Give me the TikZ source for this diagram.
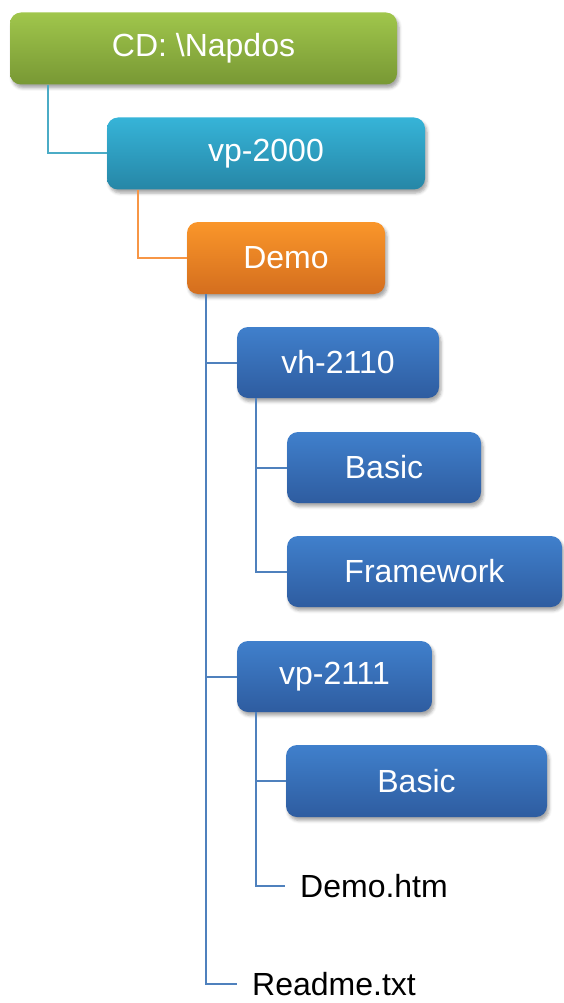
\documentclass[tikz,border=0pt]{standalone}
\usepackage{fontspec}
\setmainfont{Liberation Sans}
\usetikzlibrary{shadows.blur}
\definecolor{greenTop}{RGB}{160,198,76}
\definecolor{greenBot}{RGB}{120,152,52}
\definecolor{aquaTop}{RGB}{54,180,216}
\definecolor{aquaBot}{RGB}{38,134,166}
\definecolor{orangeTop}{RGB}{250,150,42}
\definecolor{orangeBot}{RGB}{212,110,30}
\definecolor{blueTop}{RGB}{64,128,204}
\definecolor{blueBot}{RGB}{46,92,160}
\definecolor{aquaLine}{RGB}{75,172,198}
\definecolor{orangeLine}{RGB}{247,150,70}
\definecolor{blueLine}{RGB}{79,129,189}
\begin{document}
\begin{tikzpicture}[x=1pt,y=-1pt,
  box/.style={rounded corners=11pt, inner sep=0pt, minimum height=72pt,
    text=white, font=\fontsize{32}{38}\selectfont,
    blur shadow={shadow xshift=2pt, shadow yshift=-3.5pt, shadow blur radius=3pt, shadow opacity=35}},
  greenbox/.style={box, top color=greenTop, bottom color=greenBot},
  aquabox/.style={box, top color=aquaTop, bottom color=aquaBot},
  orangebox/.style={box, top color=orangeTop, bottom color=orangeBot},
  bluebox/.style={box, top color=blueTop, bottom color=blueBot},
  leaf/.style={anchor=west, inner xsep=15pt, inner ysep=0pt, text height=23pt, text depth=0pt,
    text=black, font=\fontsize{32}{38}\selectfont},
  conn/.style={line width=2pt},
]
\useasboundingbox (0,0) rectangle (563,1003);

\node[greenbox, minimum width=387pt] (cd) at (203.5,48.5) {CD: \textbackslash Napdos};
\node[aquabox, minimum width=318pt] (vp2000) at (266,153.5) {vp-2000};
\node[orangebox, minimum width=198pt] (demo) at (286,258) {Demo};
\node[bluebox, minimum width=202pt, minimum height=71pt] (vh2110) at (338,362.5) {vh-2110};
\node[bluebox, minimum width=194pt, minimum height=71pt] (basicA) at (384,467.5) {Basic};
\node[bluebox, minimum width=275pt, minimum height=71pt] (frame) at (424.5,571.5) {Framework};
\node[bluebox, minimum width=195pt, minimum height=71pt] (vp2111) at (334.5,676.5) {vp-2111};
\node[bluebox, minimum width=261pt, minimum height=72pt] (basicB) at (416.5,781) {Basic};
\node[leaf] (demohtm) at (285,886) {Demo.htm};
\node[leaf] (readme) at (237,983.5) {Readme.txt};

\draw[conn, aquaLine] ([xshift=38pt]cd.south west) |- (vp2000.west);
\draw[conn, orangeLine] ([xshift=31pt]vp2000.south west) |- (demo.west);
\draw[conn, blueLine] ([xshift=19pt]demo.south west) |- (vh2110.west);
\draw[conn, blueLine] ([xshift=19pt]demo.south west) |- (vp2111.west);
\draw[conn, blueLine] ([xshift=19pt]demo.south west) |- (readme.west);
\draw[conn, blueLine] ([xshift=19pt]vh2110.south west) |- (basicA.west);
\draw[conn, blueLine] ([xshift=19pt]vh2110.south west) |- (frame.west);
\draw[conn, blueLine] ([xshift=19pt]vp2111.south west) |- (basicB.west);
\draw[conn, blueLine] ([xshift=19pt]vp2111.south west) |- (demohtm.west);
\end{tikzpicture}
\end{document}
